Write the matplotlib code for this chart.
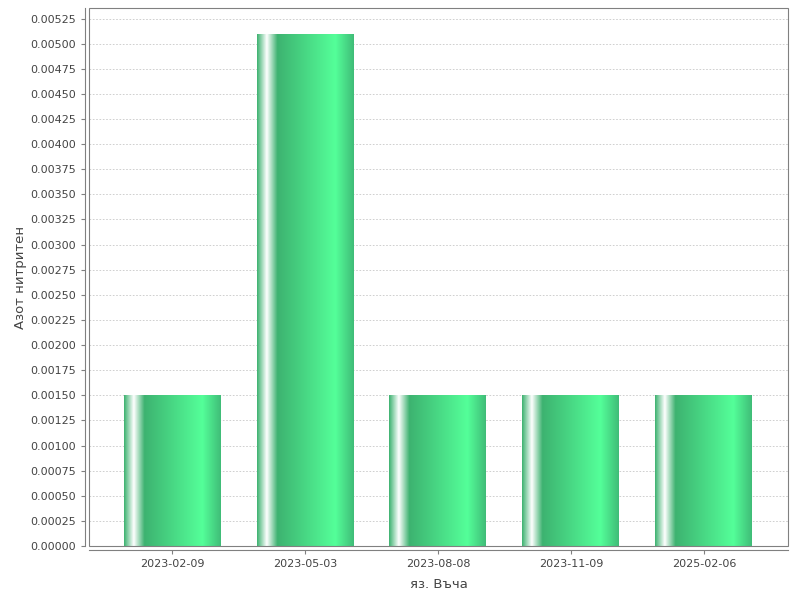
import numpy as np
import matplotlib.pyplot as plt
from matplotlib.colors import LinearSegmentedColormap
from matplotlib.patches import Rectangle
from matplotlib.ticker import MultipleLocator, FormatStrFormatter

dates = ['2023-02-09', '2023-05-03', '2023-08-08', '2023-11-09', '2025-02-06']
values = [0.0015, 0.0051, 0.0015, 0.0015, 0.0015]

plt.rcParams['font.family'] = ['DejaVu Sans']

# horizontal gradient like the JFreeChart bar painter
grad = LinearSegmentedColormap.from_list('bar', [
    (0.0, (0.24, 0.70, 0.44)),
    (0.10, (1.0, 1.0, 1.0)),
    (0.21, (0.24, 0.70, 0.44)),
    (0.81, (0.33, 1.0, 0.60)),
    (1.0, (0.25, 0.74, 0.47)),
])

fig = plt.figure(figsize=(8, 6), dpi=100)
ax = fig.add_axes([0.11125, 0.09, 0.87375, 0.8967])

x = np.arange(len(dates))
bars = ax.bar(x, values, width=0.729, color='none', zorder=2)
g = np.linspace(0, 1, 256).reshape(1, -1)
for b in bars:
    x0, w, h = b.get_x(), b.get_width(), b.get_height()
    im = ax.imshow(g, cmap=grad, aspect='auto', extent=(x0, x0 + w, 0, h), zorder=2)
    im.set_clip_path(b)

ax.set_xlim(-0.624, 4.632)
ax.set_ylim(0, 0.005355)
ax.set_xticks(x)
ax.set_xticklabels(dates)
ax.yaxis.set_major_locator(MultipleLocator(0.00025))
ax.yaxis.set_major_formatter(FormatStrFormatter('%.5f'))
ax.grid(axis='y', color='#c8c8c8', linestyle=(0, (2, 2)), linewidth=0.6, zorder=0)
ax.set_axisbelow(True)

for s in ['top', 'right']:
    ax.spines[s].set_visible(False)
for s in ['left', 'bottom']:
    ax.spines[s].set_position(('outward', 3))
    ax.spines[s].set_color('#808080')
ax.add_patch(Rectangle((0, 0), 1, 1, transform=ax.transAxes, fill=False,
                       edgecolor='#808080', linewidth=0.8, clip_on=False, zorder=3))

ax.tick_params(axis='both', colors='#808080', labelcolor='#444444', labelsize=8, length=3)
ax.set_ylabel('Азот нитритен', fontsize=9.5, color='#444444', labelpad=2)
ax.set_xlabel('яз. Въча', fontsize=9.5, color='#444444', labelpad=6)

fig.savefig('out.png', dpi=100)
